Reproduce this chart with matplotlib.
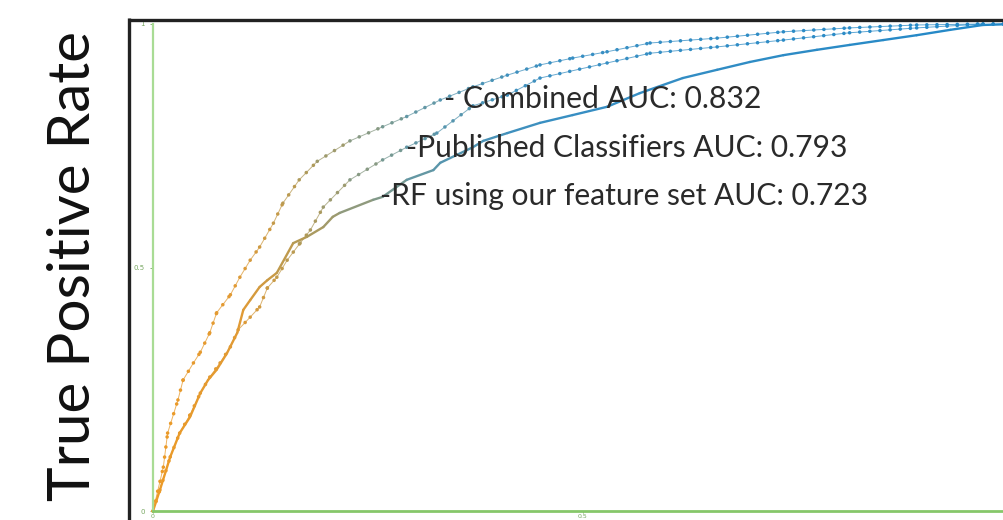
import matplotlib
matplotlib.use("Agg")
import matplotlib.pyplot as plt
import numpy as np
from matplotlib.collections import LineCollection
from matplotlib.colors import LinearSegmentedColormap
from matplotlib.lines import Line2D

# ---------------- data ----------------
combined_fpr = [0, 0.012, 0.017, 0.029, 0.035, 0.047, 0.055, 0.066, 0.074, 0.090, 0.101,
                0.113, 0.124, 0.140, 0.151, 0.170, 0.191, 0.229, 0.267, 0.295, 0.334,
                0.372, 0.412, 0.450, 0.488, 0.528, 0.578, 0.656, 0.733, 0.810, 0.888,
                0.965, 1.0]
combined_tpr = [0, 0.090, 0.160, 0.228, 0.269, 0.304, 0.326, 0.366, 0.407, 0.444, 0.480,
                0.515, 0.542, 0.591, 0.632, 0.680, 0.718, 0.760, 0.789, 0.810, 0.844,
                0.871, 0.895, 0.916, 0.930, 0.943, 0.961, 0.971, 0.984, 0.992, 0.998,
                1.0, 1.0]

published_fpr = [0, 0.008, 0.020, 0.031, 0.043, 0.055, 0.066, 0.078, 0.090, 0.099, 0.113,
                 0.124, 0.133, 0.144, 0.156, 0.171, 0.183, 0.198, 0.229, 0.267, 0.295,
                 0.330, 0.372, 0.412, 0.450, 0.528, 0.578, 0.656, 0.733, 0.810, 0.888,
                 0.965, 1.0]
published_tpr = [0, 0.043, 0.111, 0.160, 0.197, 0.242, 0.275, 0.304, 0.337, 0.372, 0.398,
                 0.419, 0.458, 0.480, 0.515, 0.550, 0.577, 0.624, 0.680, 0.721, 0.747,
                 0.776, 0.832, 0.854, 0.889, 0.920, 0.940, 0.953, 0.967, 0.982, 0.992,
                 1.0, 1.0]

rf_fpr = [0, 0.008, 0.020, 0.031, 0.043, 0.055, 0.064, 0.074, 0.086, 0.098, 0.105, 0.113,
          0.124, 0.133, 0.144, 0.163, 0.179, 0.198, 0.209, 0.217, 0.256, 0.267, 0.295,
          0.326, 0.334, 0.372, 0.384, 0.412, 0.450, 0.488, 0.528, 0.566, 0.616, 0.656,
          0.694, 0.733, 0.772, 0.810, 0.849, 0.888, 0.927, 0.965, 1.0]
rf_tpr = [0, 0.043, 0.111, 0.160, 0.193, 0.242, 0.269, 0.290, 0.324, 0.366, 0.413, 0.433,
          0.460, 0.474, 0.489, 0.550, 0.563, 0.583, 0.604, 0.612, 0.639, 0.645, 0.680,
          0.700, 0.715, 0.747, 0.760, 0.776, 0.797, 0.813, 0.830, 0.858, 0.889, 0.906,
          0.922, 0.936, 0.947, 0.957, 0.967, 0.977, 0.988, 0.998, 1.0]

labels = ["- Combined AUC: 0.832",
          "-Published Classifiers AUC: 0.793",
          "-RF using our feature set AUC: 0.723"]
ylabel = "True Positive Rate"
tick_values = [0, 0.5, 1]
tick_labels = ["0", "0.5", "1"]

# ---------------- figure ----------------
W, H = 1004, 520
fig = plt.figure(figsize=(W / 100, H / 100), dpi=100)
fig.patch.set_facecolor("white")

def fx(px):
    return px / W

def fy(py):
    return 1 - py / H

x0, x1 = 153, 1013
y0, y1 = 511, 24
ax = fig.add_axes([fx(x0), fy(y0), (x1 - x0) / W, (y0 - y1) / H])
ax.set_xlim(0, 1)
ax.set_ylim(0, 1)
ax.set_facecolor("none")

green = "#86c76a"
for s in ["top", "right"]:
    ax.spines[s].set_visible(False)
ax.spines["left"].set_color("#a9dc95")
ax.spines["left"].set_linewidth(1.6)
ax.spines["bottom"].set_color(green)
ax.spines["bottom"].set_linewidth(2.0)
ax.set_xticks(tick_values[:2])
ax.set_xticklabels(tick_labels[:2])
ax.set_yticks(tick_values)
ax.set_yticklabels(tick_labels)
ax.tick_params(axis="y", colors="#78a862", labelsize=5, length=2, width=0.6, pad=4)
ax.tick_params(axis="x", colors="#78a862", labelsize=4.5, length=1.5, width=0.6, pad=0.5)

cmap = LinearSegmentedColormap.from_list(
    "roc", [(0.0, "#ec9a26"), (0.10, "#e09a35"), (0.17, "#b49a55"),
            (0.24, "#8c9a80"), (0.32, "#5e97a8"), (0.45, "#3a8fc2"),
            (1.0, "#2288c8")])

def segs(xs, ys):
    pts = np.column_stack([xs, ys])
    s = np.stack([pts[:-1], pts[1:]], axis=1)
    mid = (pts[:-1, 0] + pts[1:, 0]) / 2
    return s, mid

def dotted_curve(xs, ys):
    s, mid = segs(xs, ys)
    cols = cmap(mid)
    lc = LineCollection(s, colors=cols, linewidths=0.7, alpha=0.75, clip_on=False)
    ax.add_collection(lc)
    dots = LineCollection(s, colors=cols, linewidths=2.6, linestyles=[(0, (0.01, 2.8))],
                          capstyle="round", clip_on=False)
    ax.add_collection(dots)

def solid_curve(xs, ys):
    s, mid = segs(xs, ys)
    cols = cmap(mid)
    lc = LineCollection(s, colors=cols, linewidths=1.7, capstyle="round",
                        joinstyle="round", clip_on=False)
    ax.add_collection(lc)

dotted_curve(combined_fpr, combined_tpr)
dotted_curve(published_fpr, published_tpr)
solid_curve(rf_fpr, rf_tpr)

# black frame (cropped)
fig.add_artist(Line2D([fx(129.5), fx(129.5)], [fy(18), fy(530)], color="#222222", lw=2.4,
                      solid_capstyle="butt"))
fig.add_artist(Line2D([fx(128.3), fx(1010)], [fy(19.5), fy(19.5)], color="#222222", lw=2.4,
                      solid_capstyle="butt"))

renderer = fig.canvas.get_renderer()

def fit(t, target_w, horizontal=True):
    bb = t.get_window_extent(renderer)
    size = bb.width if horizontal else bb.height
    t.set_fontsize(t.get_fontsize() * target_w / size)

font = ["Lato", "DejaVu Sans"]
# annotations: (left px, right px, baseline px)
pos = [(444, 762, 108), (406, 848, 157), (380, 869, 205)]
for lab, (l, r, b) in zip(labels, pos):
    t = fig.text(fx(l), fy(b), lab, ha="left", va="baseline", color="#2a2a2a",
                 family=font, fontsize=20)
    fit(t, r - l)

yl = fig.text(fx(90), fy(266), ylabel, rotation=90, rotation_mode="anchor",
              ha="center", va="baseline", color="#111111", family=font, fontsize=40)
fit(yl, 470, horizontal=False)

fig.savefig("out.png", dpi=100, facecolor="white")
